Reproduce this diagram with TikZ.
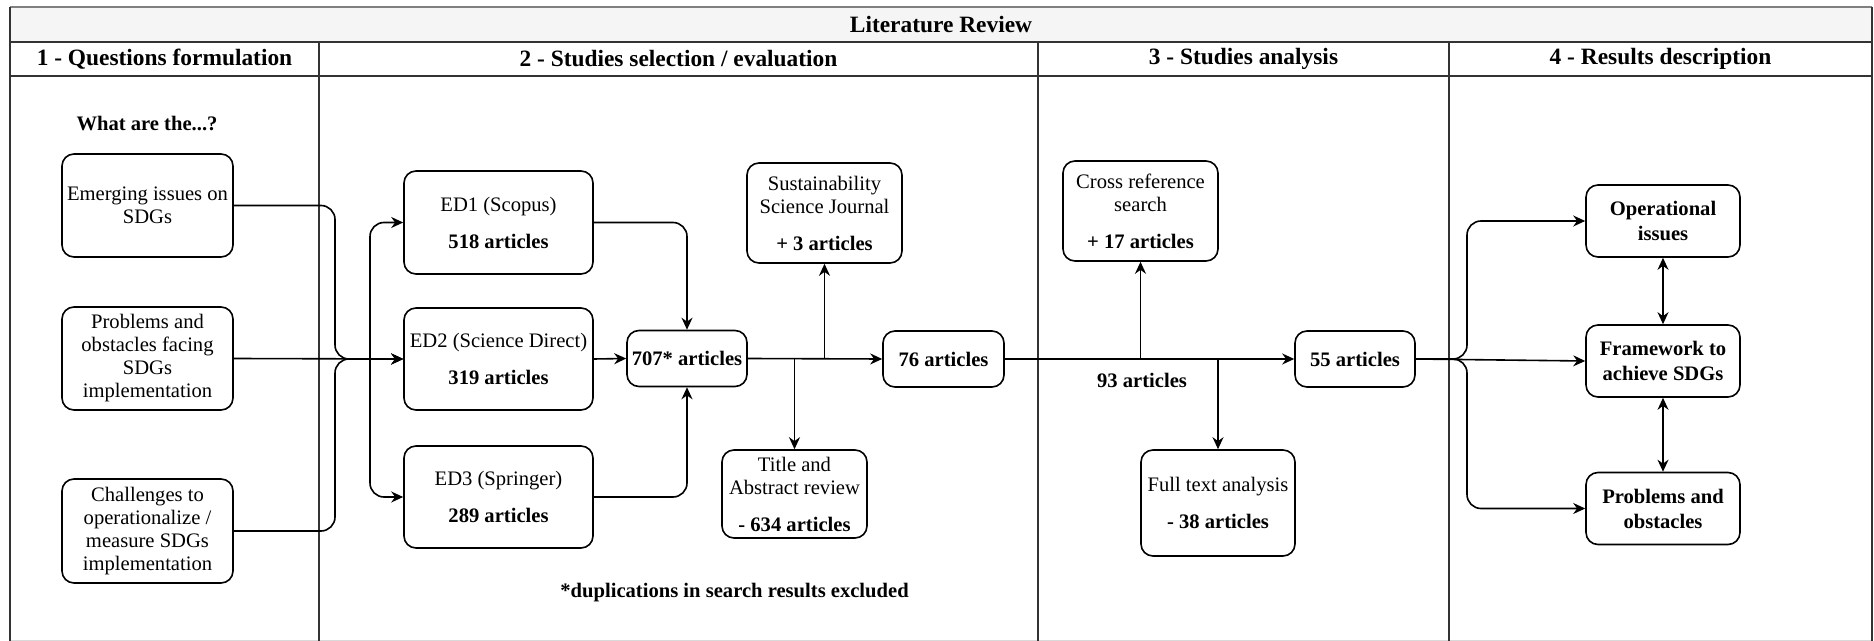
\documentclass[tikz,border=0pt]{standalone}
\usepackage{fontspec}
\setmainfont{Liberation Serif}
\usetikzlibrary{arrows.meta}
\begin{document}
\begin{tikzpicture}[x=0.5pt,y=-0.5pt,
  box/.style={draw, rounded corners=6pt, align=center, line width=0.8pt, inner sep=0pt,
    font=\fontsize{10.3}{11.5}\selectfont},
  hdr/.style={font=\fontsize{11.7}{13}\selectfont\bfseries, inner sep=0pt},
  lbl/.style={font=\fontsize{10.3}{11.5}\selectfont\bfseries, inner sep=0pt},
  arr/.style={line width=0.8pt, -{Stealth[length=6pt,width=5.5pt]}},
  darr/.style={line width=0.8pt, {Stealth[length=6pt,width=5.5pt]}-{Stealth[length=6pt,width=5.5pt]}},
  frame/.style={line width=0.8pt, draw=black!80}
]
\useasboundingbox (0,0) rectangle (1874,641);
% frame
\fill[black!4] (10,7) rectangle (1872,42);
\draw[line width=0.75pt, draw=black!50] (10,7) -- (1872,7);
\draw[line width=0.5pt, draw=black!15] (10,640) -- (1872,640);
\draw[frame] (10,7) -- (10,641);
\draw[frame] (1872,7) -- (1872,641);
\draw[frame] (10,42) -- (1872,42);
\draw[frame] (10,76) -- (1872,76);
\draw[frame] (319,42) -- (319,641);
\draw[frame] (1038,42) -- (1038,641);
\draw[frame] (1449,42) -- (1449,641);
% titles
\node[hdr] (title) at (941,25) {Literature Review};
\node[hdr] (h1) at (164.5,59) {1 - Questions formulation};
\node[hdr] (h2) at (678.5,59) {2 - Studies selection / evaluation};
\node[hdr] (h3) at (1243.5,59) {3 - Studies analysis};
\node[hdr] (h4) at (1660.5,59) {4 - Results description};
% column 1
\node[lbl] (what) at (147,124) {What are the...?};
\node[box, minimum width=85.5pt, minimum height=51.5pt] (em) at (147.5,205.5) {Emerging issues on\\SDGs};
\node[box, minimum width=85.5pt, minimum height=51.5pt] (pr) at (147.5,358.5) {Problems and\\obstacles facing\\SDGs\\implementation};
\node[box, minimum width=85.5pt, minimum height=52pt] (ch) at (147.5,531) {Challenges to\\operationalize /\\measure SDGs\\implementation};
% column 2
\node[box, minimum width=94.5pt, minimum height=51.5pt] (ed1) at (498.5,222.5) {ED1 (Scopus)\\[7pt]\textbf{518 articles}};
\node[box, minimum width=94.5pt, minimum height=51pt] (ed2) at (498.5,359) {ED2 (Science Direct)\\[7pt]\textbf{319 articles}};
\node[box, minimum width=94.5pt, minimum height=51pt] (ed3) at (498.5,497) {ED3 (Springer)\\[7pt]\textbf{289 articles}};
\node[box, minimum width=60pt, minimum height=28pt] (n707) at (687,358.5) {\textbf{707* articles}};
\node[box, minimum width=77.5pt, minimum height=50pt] (sust) at (824.5,213) {Sustainability\\Science Journal\\[7pt]\textbf{+ 3 articles}};
\node[box, minimum width=72.5pt, minimum height=44pt] (ta) at (794.5,494) {Title and\\Abstract review\\[7pt]\textbf{- 634 articles}};
\node[box, minimum width=60.5pt, minimum height=28pt] (n76) at (943.5,359) {\textbf{76 articles}};
\node[lbl, anchor=west] (dup) at (560,593) {*duplications in search results excluded};
% column 3
\node[box, minimum width=77.5pt, minimum height=50pt] (cr) at (1140.5,211) {Cross reference\\search\\[7pt]\textbf{+ 17 articles}};
\node[box, minimum width=77pt, minimum height=53pt] (ft) at (1218,503) {Full text analysis\\[7pt]\textbf{- 38 articles}};
\node[box, minimum width=60pt, minimum height=28pt] (n55) at (1355,359) {\textbf{55 articles}};
\node[lbl] (n93) at (1142,380) {93 articles};
% column 4
\node[box, minimum width=77pt, minimum height=36pt, font=\fontsize{10.3}{12.5}\selectfont\bfseries] (op) at (1663,221) {Operational\\issues};
\node[box, minimum width=77pt, minimum height=36pt, font=\fontsize{10.3}{12.5}\selectfont\bfseries] (fw) at (1663,361) {Framework to\\achieve SDGs};
\node[box, minimum width=77pt, minimum height=36pt, font=\fontsize{10.3}{12.5}\selectfont\bfseries] (po) at (1663,508.5) {Problems and\\obstacles};
% connectors
\coordinate (b1) at (335,359);
\coordinate (f1) at (370,359);
\coordinate (g1) at (1467,359);
\draw[arr, rounded corners=7pt] (em.east) -| (b1) -- (ed2.west);
\draw[arr, rounded corners=7pt] (ch.east) -| (b1) -- (ed2.west);
\draw[arr] (pr.east) -- (ed2.west);
\draw[arr, rounded corners=7pt] (f1) |- (ed1.west);
\draw[arr, rounded corners=7pt] (f1) |- (ed3.west);
\draw[arr, rounded corners=7pt] (ed1.east) -| (n707.north);
\draw[arr, rounded corners=7pt] (ed3.east) -| (n707.south);
\draw[arr] (ed2.east) -- (n707.west);
\draw[arr] (n707.east) -- (n76.west);
\draw[arr] (sust.south |- n707.east) -- (sust.south);
\draw[arr] (ta.north |- n707.east) -- (ta.north);
\draw[arr] (n76.east) -- (n55.west);
\draw[arr] (cr.south |- n76.east) -- (cr.south);
\draw[arr] (ft.north |- n76.east) -- (ft.north);
\draw[arr, rounded corners=7pt] (n55.east) -- (g1) |- (op.west);
\draw[arr, rounded corners=7pt] (n55.east) -- (g1) |- (po.west);
\draw[arr] (n55.east) -- (fw.west);
\draw[darr] (op.south) -- (fw.north);
\draw[darr] (fw.south) -- (po.north);
\end{tikzpicture}
\end{document}
